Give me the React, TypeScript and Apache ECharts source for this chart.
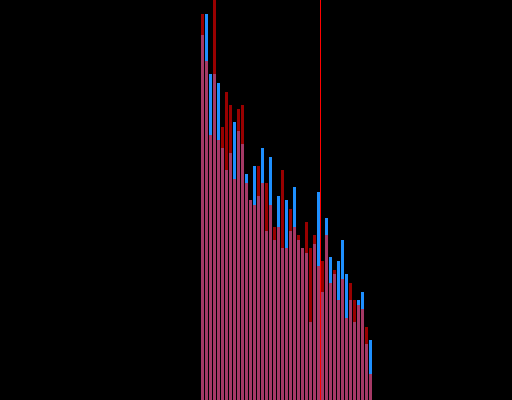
import React, { useEffect, useRef } from "react";
import * as echarts from "echarts";

const categories: string[] = Array.from({ length: 43 }, (_, i) => String(i + 1));

const blueValues: number[] = [
  365, 386, 326, 326, 317, 252, 230, 247, 278, 269, 256, 226, 200, 234, 204, 252,
  169, 243, 160, 204, 152, 200, 169, 213, 160, 152, 147, 78, 156, 208, 108, 182,
  143, 126, 139, 160, 126, 100, 78, 100, 108, 56, 60,
];

const redValues: number[] = [
  386, 339, 265, 400, 260, 273, 308, 295, 221, 291, 295, 217, 200, 195, 234, 217,
  217, 195, 173, 173, 230, 152, 191, 173, 165, 152, 178, 152, 165, 134, 139, 165,
  117, 130, 100, 121, 82, 117, 100, 95, 91, 73, 26,
];

const markerPosition: number[] = [30];

export default function App() {
  const ref = useRef<HTMLDivElement>(null);

  useEffect(() => {
    document.body.style.background = "#000";
    const chart = echarts.init(ref.current!, undefined, { renderer: "svg" });
    chart.setOption({
      animation: false,
      backgroundColor: "#000",
      grid: { left: 200.5, top: 0, width: 172, bottom: 0 },
      xAxis: [
        { type: "category", data: categories, show: false },
        { type: "value", min: 0, max: categories.length, show: false },
      ],
      yAxis: { type: "value", min: 0, max: 400, show: false },
      series: [
        {
          type: "bar",
          data: blueValues,
          barWidth: 3,
          barGap: "-100%",
          itemStyle: { color: "#1e90ff" },
        },
        {
          type: "bar",
          data: redValues,
          barWidth: 3,
          barGap: "-100%",
          itemStyle: { color: "#ff0000", opacity: 0.6 },
        },
        {
          type: "scatter",
          xAxisIndex: 1,
          data: [[markerPosition[0], 0]],
          symbolSize: 0,
          silent: true,
          markLine: {
            silent: true,
            symbol: ["none", "none"],
            label: { show: false },
            lineStyle: { color: "#ff0000", width: 1, type: "solid", opacity: 1 },
            data: markerPosition.map((v) => ({ xAxis: v })),
          },
        },
      ],
    });
    return () => chart.dispose();
  }, []);

  return (
    <div
      ref={ref}
      style={{ position: "fixed", left: 0, top: 0, width: 512, height: 400 }}
    />
  );
}
